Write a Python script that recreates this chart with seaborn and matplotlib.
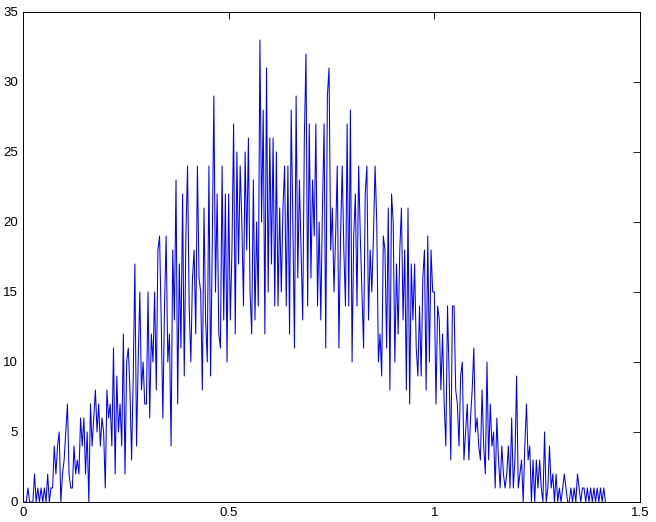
import numpy as np
import pandas as pd
import seaborn as sns
import matplotlib
matplotlib.use("Agg")
import matplotlib.pyplot as plt

# bin width of the histogram-like trace
bin_width = 0.004

# counts per bin, one row per 0.1 of x
counts = [
    0, 0, 0, 1, 0, 0, 0, 2, 0, 1, 0, 1, 0, 1, 0, 2, 0, 1, 1, 4, 2, 4, 5, 0, 2,
    3, 5, 7, 2, 1, 1, 4, 2, 3, 2, 6, 4, 6, 2, 5, 0, 7, 4, 6, 8, 5, 7, 4, 6, 5,
    1, 8, 6, 7, 4, 11, 2, 9, 5, 7, 4, 12, 2, 10, 11, 8, 3, 9, 17, 4, 10, 15, 8, 10, 7,
    7, 15, 6, 12, 10, 15, 8, 18, 19, 13, 6, 14, 19, 10, 12, 4, 18, 13, 23, 7, 17, 11, 22, 9, 19,
    24, 14, 10, 16, 18, 12, 24, 16, 15, 8, 21, 13, 10, 24, 9, 18, 29, 15, 22, 12, 11, 24, 13, 22, 10,
    22, 13, 18, 27, 12, 25, 17, 24, 20, 14, 25, 18, 26, 15, 12, 23, 13, 20, 14, 33, 20, 28, 12, 31, 15,
    26, 17, 26, 14, 25, 14, 21, 15, 21, 24, 14, 24, 12, 28, 20, 11, 29, 16, 23, 18, 13, 26, 32, 14, 27,
    16, 23, 19, 27, 14, 20, 13, 21, 27, 11, 29, 31, 18, 21, 15, 19, 24, 11, 19, 24, 18, 14, 27, 14, 28,
    10, 19, 22, 14, 24, 19, 15, 11, 22, 24, 13, 18, 15, 19, 24, 20, 10, 12, 9, 19, 18, 11, 21, 8, 22,
    20, 10, 17, 12, 18, 21, 13, 18, 8, 21, 7, 17, 13, 17, 11, 9, 14, 9, 16, 18, 8, 19, 10, 18, 15,
    15, 7, 14, 13, 8, 12, 7, 4, 14, 9, 3, 14, 14, 8, 7, 4, 9, 10, 3, 5, 7, 3, 6, 8, 11,
    5, 6, 4, 3, 8, 4, 2, 10, 3, 7, 4, 5, 1, 6, 3, 1, 4, 2, 1, 2, 4, 1, 6, 1, 3,
    9, 1, 2, 3, 0, 4, 7, 3, 4, 0, 3, 0, 3, 1, 3, 1, 0, 5, 0, 1, 4, 1, 2, 0, 2,
    0, 1, 0, 1, 2, 1, 0, 0, 1, 0, 1, 0, 2, 1, 0, 1, 1, 0, 1, 0, 1, 0, 1, 0, 1,
    0, 1, 0, 1, 0,
]

x_ticks = [0, 0.5, 1, 1.5]
x_tick_labels = ["0", "0.5", "1", "1.5"]
y_ticks = [0, 5, 10, 15, 20, 25, 30, 35]

df = pd.DataFrame({"x": np.arange(len(counts)) * bin_width, "count": counts})

sns.set_style("white")
plt.rcParams["font.family"] = ["Liberation Sans", "DejaVu Sans"]
plt.rcParams["xtick.direction"] = "in"
plt.rcParams["ytick.direction"] = "in"

fig = plt.figure(figsize=(6.56, 5.22), dpi=100)
ax = fig.add_axes([23 / 656, 20 / 522, 617 / 656, 490 / 522])

sns.lineplot(data=df, x="x", y="count", color="#0000ff", linewidth=0.75,
             estimator=None, errorbar=None, ax=ax)

ax.set_xlim(0, 1.5)
ax.set_ylim(0, 35)
ax.set_xticks(x_ticks)
ax.set_xticklabels(x_tick_labels)
ax.set_yticks(y_ticks)
ax.set_xlabel("")
ax.set_ylabel("")
ax.tick_params(axis="both", which="both", labelsize=9.5, length=5, width=0.6,
               top=True, right=True, colors="black")
for spine in ax.spines.values():
    spine.set_visible(True)
    spine.set_color("black")
    spine.set_linewidth(0.7)

fig.savefig("out.png", dpi=100)
